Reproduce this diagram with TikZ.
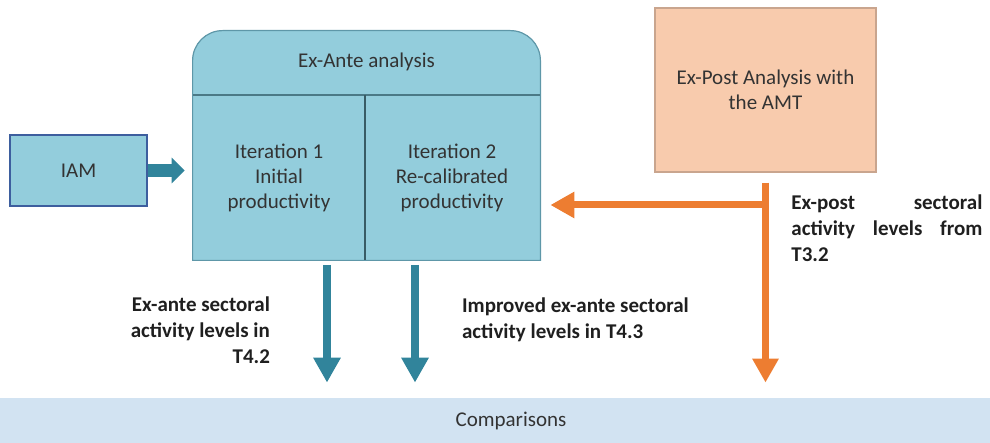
\documentclass[tikz,border=0pt]{standalone}
\usepackage{fontspec}
\setmainfont{Carlito}
\usetikzlibrary{arrows.meta}
\definecolor{aqua}{HTML}{93CDDC}
\definecolor{aqualine}{HTML}{5E97A8}
\definecolor{arrteal}{HTML}{31849B}
\definecolor{peach}{HTML}{F8CBAD}
\definecolor{peachline}{HTML}{C9A58E}
\definecolor{arrorange}{HTML}{ED7D31}
\definecolor{iamline}{HTML}{3D5E9E}
\definecolor{bandblue}{HTML}{D2E3F2}
\definecolor{txt}{HTML}{333333}
\begin{document}
\begin{tikzpicture}[x=0.5pt,y=-0.5pt,
        font=\fontsize{10.5}{12.5}\selectfont,text=txt,
        lbl/.style={font=\fontsize{10.5}{13}\selectfont\bfseries,text=black!88},
        tealarrow/.style={draw=arrteal,line width=4pt,-{Triangle[width=13pt,length=12.5pt]}},
        orangearrow/.style={draw=arrorange,line width=3.5pt,-{Triangle[width=12.5pt,length=12pt]}}]
        \useasboundingbox (0,0) rectangle (990,443);
        \node[fill=bandblue,minimum width=495pt,minimum height=22.5pt,inner sep=0pt] (comp) at (495,420.5) {\hspace*{16pt}Comparisons};
        \node[draw=iamline,line width=1pt,fill=aqua,minimum width=68.5pt,minimum height=35.5pt] (iam) at (78.5,170.5) {IAM};
        \node[minimum width=173.5pt,minimum height=114.5pt] (exante) at (366.5,145.5) {};
        \filldraw[draw=aqualine,fill=aqua,line width=0.6pt] (exante.south west) [rounded corners=15pt] -- (exante.north west) -- (exante.north east) [sharp corners] -- (exante.south east) -- cycle;
        \draw[aqualine!80!black,line width=0.6pt] (193,95) -- (540,95);
        \draw[aqualine!60!black,line width=0.6pt] (365,95) -- (365,260);
        \node (head) at (366.5,62) {Ex-Ante analysis};
        \node[align=center] (it1) at (279,178) {Iteration 1\\Initial\\productivity};
        \node[align=center] (it2) at (452,178) {Iteration 2\\Re-calibrated\\productivity};
        \node[draw=peachline,line width=0.6pt,fill=peach,minimum width=110.5pt,minimum height=82pt,align=center] (expost) at (765.5,90) {Ex-Post Analysis with\\the AMT};
        % arrows
        \draw[draw=arrteal,line width=6.5pt,-{Triangle[width=12.5pt,length=6.5pt]},shorten >=4pt] (iam.east) -- (exante.west |- iam.east);
        \coordinate (d1) at (327,260);
        \coordinate (d2) at (415,260);
        \draw[tealarrow,shorten <=2.5pt,shorten >=7.5pt] (d1) -- (d1 |- comp.north);
        \draw[tealarrow,shorten <=2.5pt,shorten >=7.5pt] (d2) -- (d2 |- comp.north);
        \draw[orangearrow,shorten <=5pt,shorten >=7.5pt] (expost.south) -- (expost.south |- comp.north);
        \coordinate (branch) at (767,205);
        \draw[orangearrow,shorten >=5pt] (branch) -- (branch -| exante.east);
        % labels
        \node[lbl,align=right,anchor=east] (lab1) at (277,330) {Ex-ante sectoral\\activity levels in\\T4.2};
        \node[lbl,align=left,anchor=west] (lab2) at (455,320) {Improved ex-ante sectoral\\activity levels in T4.3};
        \node[lbl,text width=95.5pt,align=left,anchor=west,inner sep=0pt] (lab3) at (791,228) {Ex-post\hfill sectoral\\activity\hfill levels\hfill from\\T3.2};
\end{tikzpicture}
\end{document}
